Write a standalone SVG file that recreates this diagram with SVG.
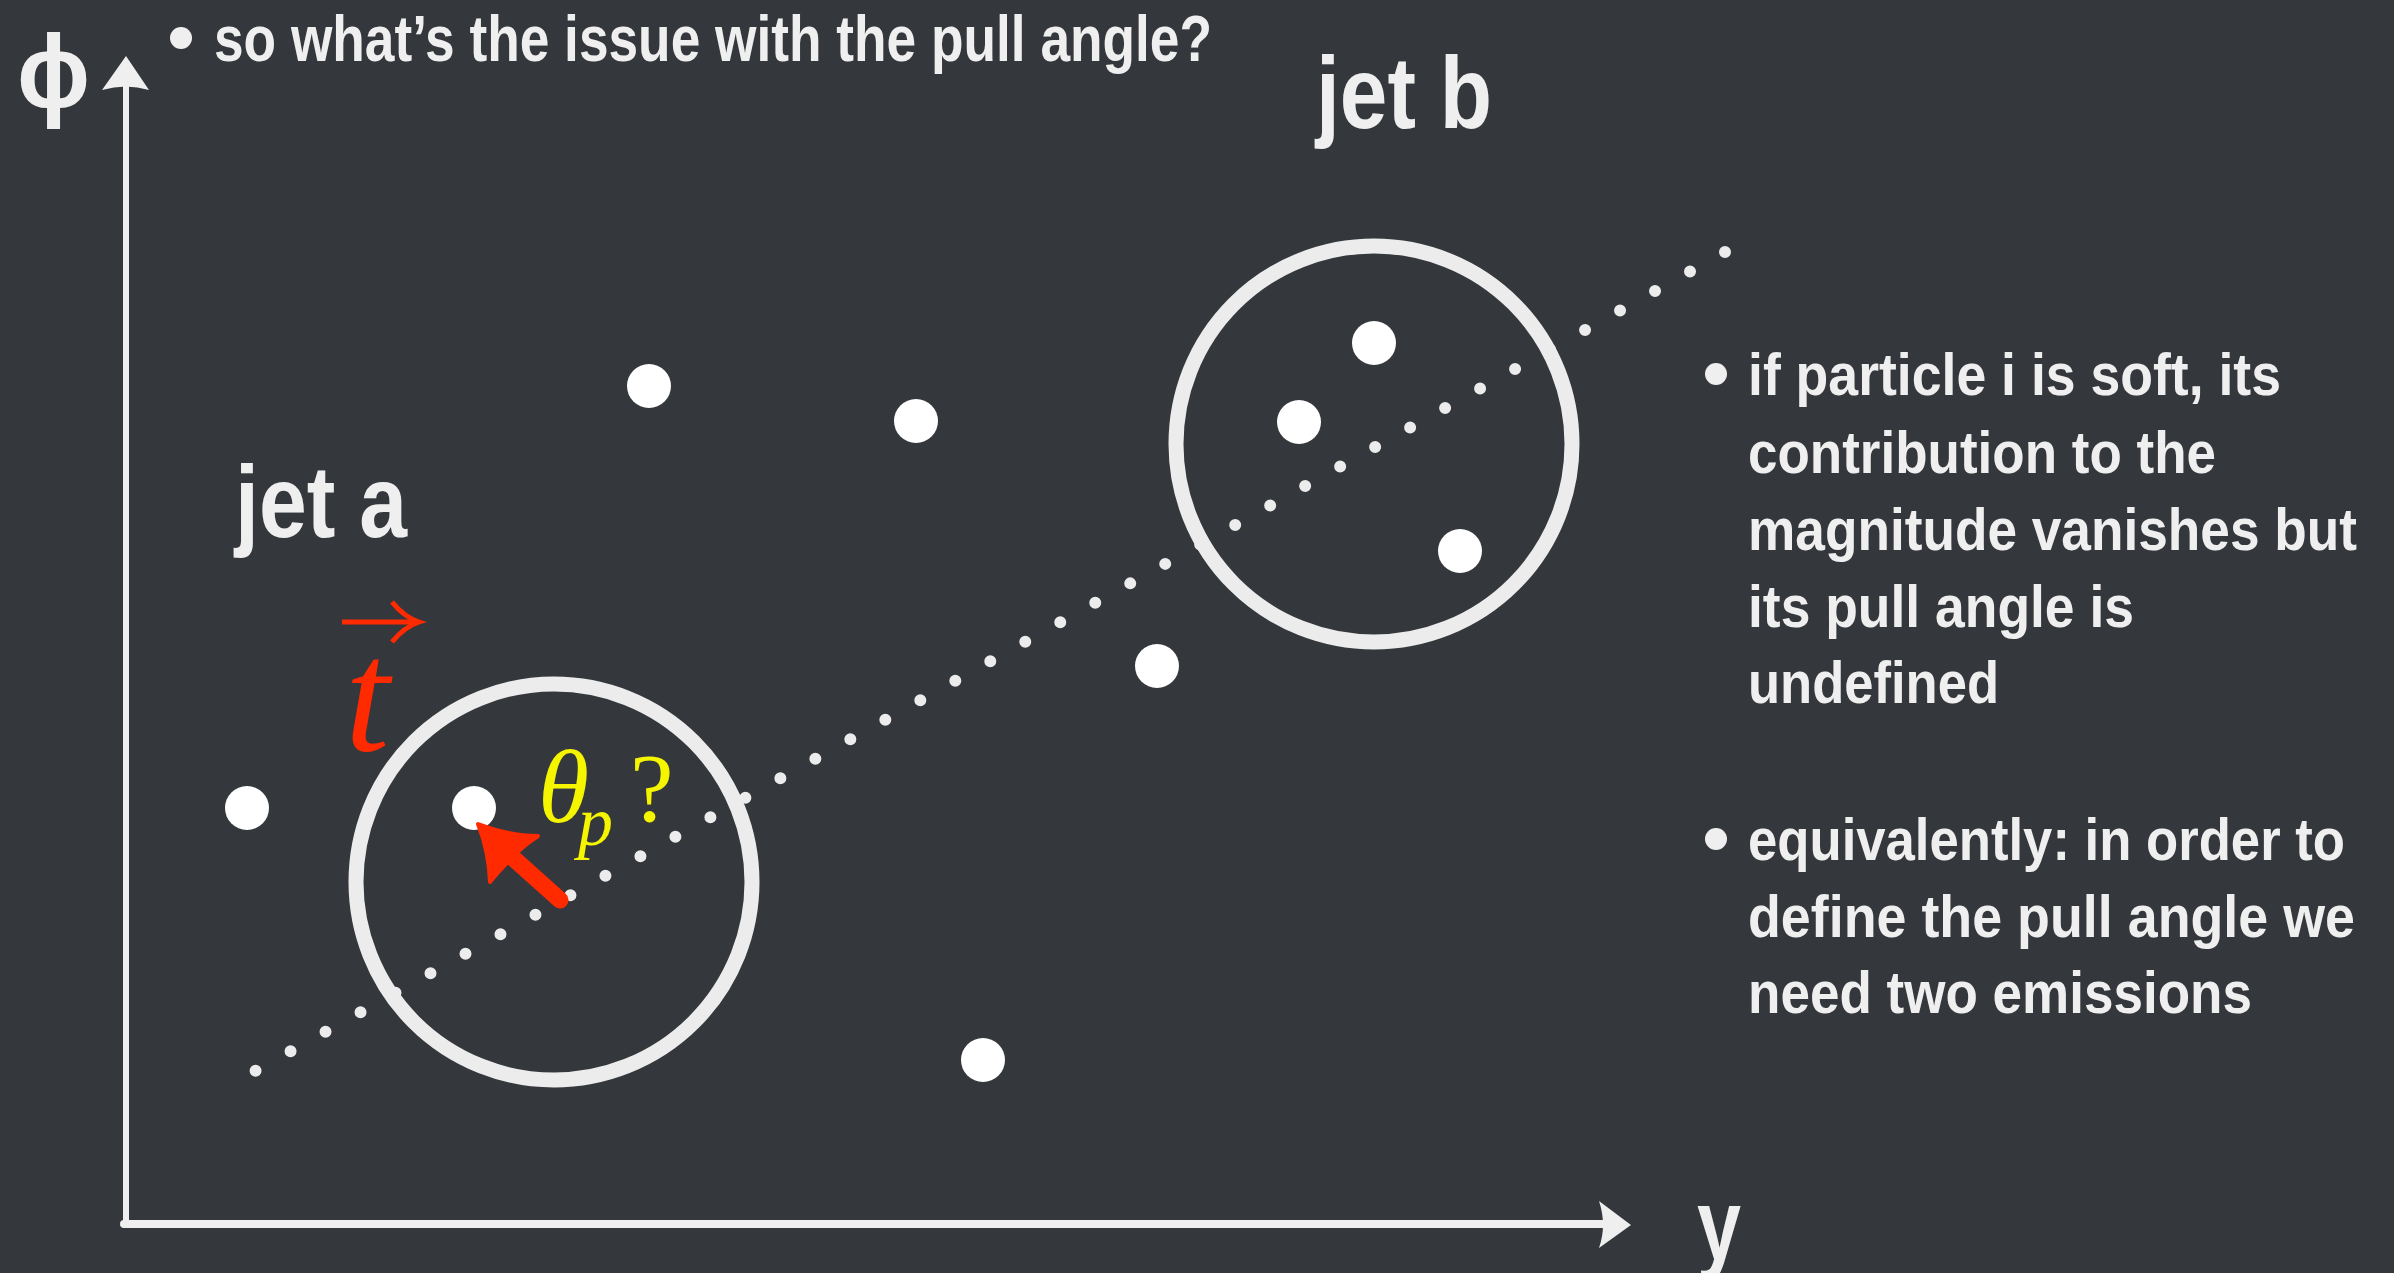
<svg xmlns="http://www.w3.org/2000/svg" width="2394" height="1273" viewBox="0 0 2394 1273">
<style>
.txt{font-family:"Liberation Sans Narrow","Liberation Sans",Arial,sans-serif;font-weight:bold;fill:#efefef}
.ring{fill:none;stroke:#ececec;stroke-width:15}
.dot{fill:#ffffff}
.axis{stroke:#efefef;fill:none;stroke-linecap:round}
.head{fill:#efefef}
.bul{fill:#efefef}
.serif{font-family:"Liberation Serif","Times New Roman",serif;font-style:italic}
</style>
<rect x="0" y="0" width="2394" height="1273" fill="#34373b"/>

<g id="title">
<circle class="bul" cx="181" cy="38" r="11"/>
<text class="txt" x="214" y="61" font-size="64" textLength="998" lengthAdjust="spacingAndGlyphs">so what’s the issue with the pull angle?</text>
</g>

<g id="axes">
<line class="axis" x1="126" y1="1224" x2="126" y2="80" stroke-width="6"/>
<path class="head" d="M126,56 L149,90 Q126,83 102,90 Z"/>
<line class="axis" x1="124" y1="1224" x2="1606" y2="1224" stroke-width="8"/>
<path class="head" d="M1631,1225 L1599,1201 Q1607,1225 1599,1248 Z"/>
<text x="17" y="107" font-family="'Liberation Sans',Arial,sans-serif" font-weight="bold" fill="#efefef" font-size="104" textLength="73" lengthAdjust="spacingAndGlyphs">ϕ</text>
<text class="txt" x="1697" y="1260" font-size="102" textLength="44" lengthAdjust="spacingAndGlyphs">y</text>
</g>

<g id="connectors">
<path d="M1725,252 L255,1071" fill="none" stroke="#ececec" stroke-width="12" stroke-linecap="round" stroke-dasharray="0 40.05"/>
</g>

<g id="jet-a">
<circle class="ring" cx="554" cy="882" r="198"/>
<text class="txt" x="235" y="537" font-size="102" textLength="172" lengthAdjust="spacingAndGlyphs">jet a</text>
</g>

<g id="jet-b">
<circle class="ring" cx="1374" cy="444" r="198"/>
<text class="txt" x="1316" y="128" font-size="102" textLength="176" lengthAdjust="spacingAndGlyphs">jet b</text>
</g>

<g id="particles">
<circle class="dot" cx="649" cy="386" r="22"/>
<circle class="dot" cx="916" cy="421" r="22"/>
<circle class="dot" cx="247" cy="808" r="22"/>
<circle class="dot" cx="474" cy="808" r="22"/>
<circle class="dot" cx="1157" cy="666" r="22"/>
<circle class="dot" cx="983" cy="1060" r="22"/>
<circle class="dot" cx="1374" cy="343" r="22"/>
<circle class="dot" cx="1299" cy="422" r="22"/>
<circle class="dot" cx="1460" cy="551" r="22"/>
</g>

<g id="pull-vector">
<line x1="512" y1="857" x2="560" y2="900" stroke="#ff2a00" stroke-width="17" stroke-linecap="round"/>
<path d="M478,824 Q510,836 538,836 Q520,848 510,860 Q498,872 490,882 Q489,852 478,824 Z" fill="#ff2a00" stroke="#ff2a00" stroke-width="4" stroke-linejoin="round"/>
</g>

<g id="t-label">
<line x1="342" y1="622" x2="414" y2="622" stroke="#ff2a00" stroke-width="5"/>
<path d="M392,602 Q404,617 419,622 Q404,627 392,642" fill="none" stroke="#ff2a00" stroke-width="5"/>
<text class="serif" x="345" y="750" font-size="160" fill="#ff2a00">t</text>
</g>

<g id="theta-label">
<text class="serif" x="538" y="822" font-size="104" fill="#f5f500">θ</text>
<text class="serif" x="578" y="845" font-size="70" fill="#f5f500">p</text>
<text font-family="'Liberation Serif','Times New Roman',serif" x="630" y="821" font-size="98" fill="#f5f500">?</text>
</g>

<g id="notes">
<circle class="bul" cx="1716" cy="374" r="11"/>
<text class="txt" x="1748" y="395" font-size="60" textLength="533" lengthAdjust="spacingAndGlyphs">if particle i is soft, its</text>
<text class="txt" x="1748" y="473" font-size="60" textLength="468" lengthAdjust="spacingAndGlyphs">contribution to the</text>
<text class="txt" x="1748" y="550" font-size="60" textLength="609" lengthAdjust="spacingAndGlyphs">magnitude vanishes but</text>
<text class="txt" x="1748" y="627" font-size="60" textLength="386" lengthAdjust="spacingAndGlyphs">its pull angle is</text>
<text class="txt" x="1748" y="703" font-size="60" textLength="251" lengthAdjust="spacingAndGlyphs">undefined</text>
<circle class="bul" cx="1716" cy="839" r="11"/>
<text class="txt" x="1748" y="860" font-size="60" textLength="597" lengthAdjust="spacingAndGlyphs">equivalently: in order to</text>
<text class="txt" x="1748" y="937" font-size="60" textLength="607" lengthAdjust="spacingAndGlyphs">define the pull angle we</text>
<text class="txt" x="1748" y="1013" font-size="60" textLength="504" lengthAdjust="spacingAndGlyphs">need two emissions</text>
</g>
</svg>
